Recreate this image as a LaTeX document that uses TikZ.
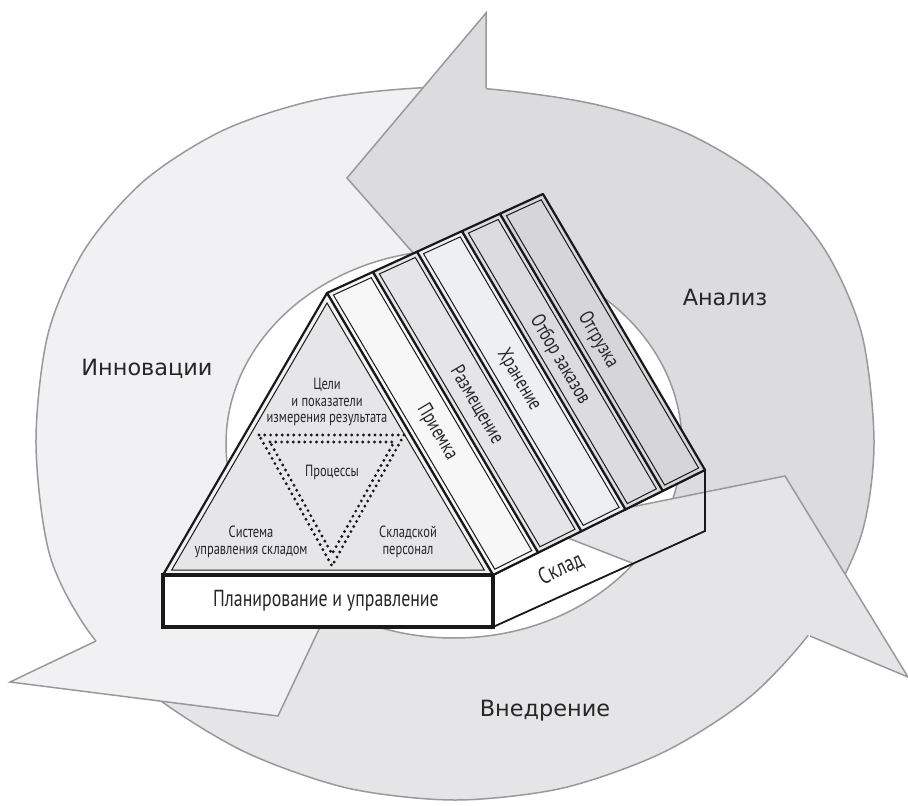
\documentclass[tikz,border=0pt]{standalone}
\usepackage{fontspec}
\setmainfont{DejaVu Sans}
\newfontfamily\narrowfont[FakeStretch=0.77]{PT Sans}

\def\outerring{plot[smooth cycle] coordinates {(455,87) (584,102) (684,132) (765,181) (825,250) (862,335) (874,444) (861,536) (818,622) (751,696) (664,752) (563,788) (455,800) (347,788) (245,752) (157,698) (92,636) (50,556) (36,444) (48,334) (85,249) (145,180) (226,129) (326,98)}}
\def\innerring{(454,444) ellipse [x radius=228, y radius=194]}

\begin{document}
\begin{tikzpicture}[x=0.5pt,y=-0.5pt,
  ringline/.style={draw=cring,line width=0.75pt},
  boxline/.style={draw=cline,line width=0.9pt},
  slabouter/.style={draw=cline,line width=1.1pt,line join=round},
  slabinner/.style={draw=cline,line width=0.5pt},
  biglabel/.style={font=\fontsize{11.2}{13}\selectfont,text=clbl},
  tinylabel/.style={font=\narrowfont\fontsize{8.1}{8.2}\selectfont,text=clbl,align=center,inner sep=0pt},
  slablabel/.style={font=\narrowfont\fontsize{10.2}{11}\selectfont,text=clbl,rotate=-59.5,inner sep=0pt},
  dotrow/.style={draw=cline,line width=1.6pt,line cap=round,dash pattern=on 0pt off 2.9pt}]
\definecolor{cfi}{rgb}{0.945,0.945,0.953}
\definecolor{cfa}{rgb}{0.863,0.863,0.871}
\definecolor{cfv}{rgb}{0.898,0.898,0.906}
\definecolor{cring}{rgb}{0.6,0.6,0.6}
\definecolor{cline}{rgb}{0.1,0.1,0.1}
\definecolor{clbl}{rgb}{0.15,0.15,0.15}
\definecolor{cband}{rgb}{0.95,0.95,0.95}
\definecolor{ctri}{rgb}{0.902,0.902,0.91}
\definecolor{cs0}{rgb}{0.97,0.97,0.97}
\definecolor{cs1}{rgb}{0.9,0.9,0.91}
\definecolor{cs2}{rgb}{0.933,0.937,0.945}
\definecolor{cs3}{rgb}{0.863,0.863,0.871}
\definecolor{cs4}{rgb}{0.84,0.84,0.85}
%
\useasboundingbox (0,0) rectangle (908,806);
\fill[white] (0,0) rectangle (908,806);
%
% ring bodies
\begin{scope}
\clip (454,444) -- (1372,792) -- (1500,-500) -- (482,-100) -- (486,330) -- cycle;
\fill[cfa,even odd rule] \outerring \innerring;
\draw[ringline] \outerring;
\draw[ringline] \innerring;
\end{scope}
\begin{scope}
\clip (454,444) -- (-458,1032) -- (454,3000) -- (1345,853) -- (544,524.5) -- cycle;
\fill[cfv,even odd rule] \outerring \innerring;
\draw[ringline] \outerring;
\draw[ringline] \innerring;
\end{scope}
\begin{scope}
\clip (454,444) -- (384,-1276) -- (-1500,-500) -- (-748,1088) -- (334,518) -- cycle;
\fill[cfi,even odd rule] \outerring \innerring;
\draw[ringline] \outerring;
\draw[ringline] \innerring;
\end{scope}
%
% ring heads
\fill[cfa] (486,88) -- (486,13) -- (347,178) -- (490,340) -- (488,252) -- cycle;
\draw[ringline] (486,88) -- (486,13) -- (347,178) -- (490,340) -- (488,252);
\fill[cfv] (810,636) -- (908,677) -- (785,476) -- (537,526) -- (632,563) -- cycle;
\draw[ringline] (810,636) -- (908,677) -- (785,476) -- (537,526) -- (632,563);
\fill[cfi] (96,641) -- (10,682) -- (278,716) -- (389,481) -- (265,552) -- cycle;
\draw[ringline] (96,641) -- (10,682) -- (278,716) -- (389,481) -- (265,552);
%
\node[biglabel] (innov) at (147,369) {Инновации};
\node[biglabel] (anal) at (725,297) {Анализ};
\node[biglabel] (vnedr) at (545,711) {Внедрение};
%
% warehouse side
\draw[boxline] (493,575) -- (705,470) -- (705,531) -- (493,627);
\node[font=\narrowfont\fontsize{11.6}{13}\selectfont,text=clbl,rotate=26] (sklad) at (561,569) {Склад};
%
% roof slabs
\filldraw[cs0,slabouter] (327,293) -- (373,271.9) -- (538.2,552.6) -- (493,575) -- cycle;
\draw[slabinner] (333.4,295) -- (371.2,277.7) -- (531.8,550.6) -- (494.8,569.2) -- cycle;
\filldraw[cs1,slabouter] (373,271.9) -- (417.1,251.7) -- (581.4,531.2) -- (538.2,552.6) -- cycle;
\draw[slabinner] (379.4,273.9) -- (415.3,257.5) -- (575,529.2) -- (540,546.8) -- cycle;
\filldraw[cs2,slabouter] (417.1,251.7) -- (462,231.1) -- (625.5,509.4) -- (581.4,531.2) -- cycle;
\draw[slabinner] (423.5,253.7) -- (460.2,236.9) -- (619.1,507.4) -- (583.2,525.4) -- cycle;
\filldraw[cs3,slabouter] (462,231.1) -- (500,213.7) -- (662.8,490.9) -- (625.5,509.4) -- cycle;
\draw[slabinner] (468.4,233.1) -- (498.2,219.5) -- (656.4,488.9) -- (627.3,503.6) -- cycle;
\filldraw[cs4,slabouter] (500,213.7) -- (543,194) -- (705,470) -- (662.8,490.9) -- cycle;
\draw[slabinner] (506.4,215.7) -- (541.2,199.8) -- (698.6,468) -- (664.6,485.1) -- cycle;
%
\node[slablabel] (s0) at (437,432) {Приемка};
\node[slablabel] (s1) at (477,405) {Размещение};
\node[slablabel] (s2) at (519,380) {Хранение};
\node[slablabel] (s3) at (560,360) {Отбор заказов};
\node[slablabel] (s4) at (598,340) {Отгрузка};
%
% front triangle
\filldraw[fill=cband,draw=cline,line width=1.1pt,line join=round] (327,293) -- (163,575) -- (493,575) -- cycle;
\filldraw[fill=ctri,draw=cline,line width=0.5pt] (327,303) -- (171.7,570) -- (484.3,570) -- cycle;
\draw[dotrow] (259,435) -- (404,435) -- (332,566) -- cycle;
\draw[dotrow] (270,442) -- (394,442) -- (332,554) -- cycle;
%
\node[tinylabel] (goals) at (327,402) {Цели\\и показатели\\измерения результата};
\node[tinylabel] (proc) at (332,472) {Процессы};
\node[tinylabel] (wms) at (251,542) {Система\\управления складом};
\node[tinylabel] (staff) at (408,542) {Складской\\персонал};
%
% base block
\filldraw[fill=white,draw=cline,line width=1.6pt] (163,575) rectangle (493,627);
\node[font=\narrowfont\fontsize{11.6}{13}\selectfont,text=clbl] (plan) at (326,601) {Планирование и управление};
%
\end{tikzpicture}
\end{document}
